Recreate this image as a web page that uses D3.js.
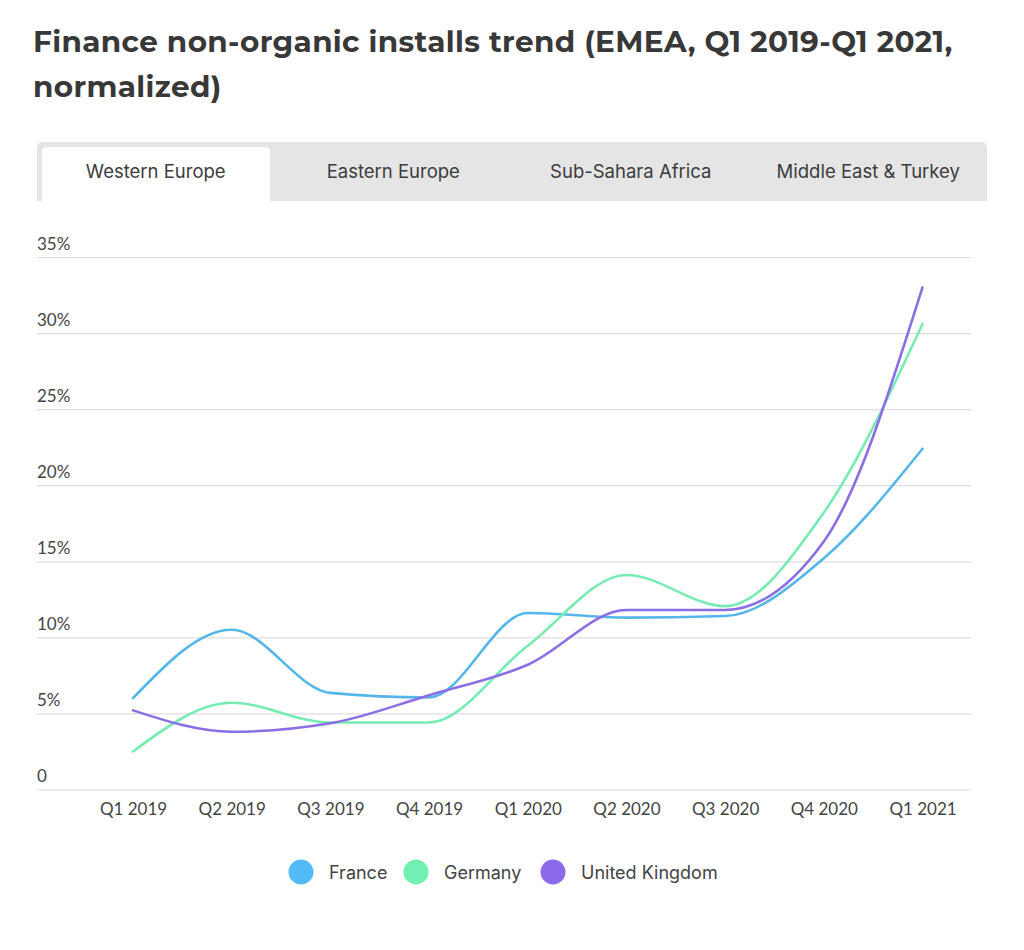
<!DOCTYPE html>
<html>
<head>
<meta charset="utf-8">
<script src="https://cdn.jsdelivr.net/npm/d3@7"></script>
<style>
  html, body { margin: 0; padding: 0; background: #fff; }
  svg { display: block; }
</style>
</head>
<body>
<svg id="chart" width="1024" height="950"></svg>
<script>
const titleLines = ["Finance non-organic installs trend (EMEA, Q1 2019-Q1 2021,", "normalized)"];
const tabs = ["Western Europe", "Eastern Europe", "Sub-Sahara Africa", "Middle East & Turkey"];
const quarters = ["Q1 2019", "Q2 2019", "Q3 2019", "Q4 2019", "Q1 2020", "Q2 2020", "Q3 2020", "Q4 2020", "Q1 2021"];
const yTicks = [0, 5, 10, 15, 20, 25, 30, 35];
const seriesNames = ["France", "Germany", "United Kingdom"];
const franceValues = [6.0, 10.5, 6.35, 6.05, 11.6, 11.3, 11.4, 15.2, 22.4];
const germanyValues = [2.5, 5.7, 4.4, 4.4, 9.45, 14.1, 12.05, 18.2, 30.6];
const ukValues = [5.2, 3.8, 4.35, 6.2, 8.2, 11.8, 11.8, 16.3, 33.0];
const lineColors = ["#55b6ea", "#78ebb3", "#8b6ee6"];
const legendColors = ["#52bbf5", "#72f0b4", "#8c6beb"];

const svg = d3.select("#chart");
const bodyFont = "Lato, 'Open Sans', sans-serif";
const wideFont = "Inter, 'Open Sans', sans-serif";

// Title
svg.append("g").selectAll("text").data(titleLines).join("text")
  .attr("x", 33).attr("y", (d, i) => 52 + i * 45)
  .attr("font-family", "Montserrat, 'Open Sans', sans-serif")
  .attr("font-weight", 700).attr("font-size", 29.5)
  .attr("letter-spacing", 0.35)
  .attr("fill", "#383838")
  .text(d => d);

// Tabs
const tabX = d3.scaleBand().domain(tabs).range([37, 987]);
const tabG = svg.append("g");
tabG.append("path")
  .attr("d", () => {
    const x0 = 37, x1 = 987, y0 = 142, y1 = 201, r = 6;
    return `M${x0},${y1} V${y0 + r} Q${x0},${y0} ${x0 + r},${y0} H${x1 - r} Q${x1},${y0} ${x1},${y0 + r} V${y1} Z`;
  })
  .attr("fill", "#e5e5e5");
tabG.append("path")
  .attr("d", () => {
    const x0 = 42, x1 = 270, y0 = 147, y1 = 201, r = 5;
    return `M${x0},${y1} V${y0 + r} Q${x0},${y0} ${x0 + r},${y0} H${x1 - r} Q${x1},${y0} ${x1},${y0 + r} V${y1} Z`;
  })
  .attr("fill", "#ffffff");
tabG.selectAll("text").data(tabs).join("text")
  .attr("x", d => tabX(d) + tabX.bandwidth() / 2)
  .attr("y", 178)
  .attr("text-anchor", "middle")
  .attr("font-family", wideFont).attr("font-size", 18.5)
  .attr("fill", "#3c3c3c")
  .text(d => d);

// Scales
const x = d3.scalePoint().domain(quarters).range([133, 922.5]);
const y = d3.scaleLinear().domain([0, 35]).range([789.5, 257]);

// Y axis with gridlines
const yAxis = d3.axisRight(y).tickValues(yTicks).tickSize(934)
  .tickFormat(d => d === 0 ? "0" : d + "%");
const yG = svg.append("g").attr("transform", "translate(37,0)").call(yAxis);
yG.select(".domain").remove();
yG.selectAll(".tick line").attr("stroke", "#dedede").attr("stroke-width", 1.2);
yG.selectAll(".tick text")
  .attr("x", 0).attr("dy", -8).attr("text-anchor", "start")
  .attr("font-family", bodyFont).attr("font-size", 17).attr("fill", "#444");

// X axis
const xAxis = d3.axisBottom(x).tickSize(0).tickPadding(0);
const xG = svg.append("g").attr("transform", "translate(0,789.5)").call(xAxis);
xG.select(".domain").remove();
xG.selectAll(".tick text")
  .attr("y", 25).attr("dy", 0)
  .attr("font-family", bodyFont).attr("font-size", 17).attr("fill", "#444");

// Lines
const series = [franceValues, germanyValues, ukValues];
const line = d3.line()
  .x((d, i) => x(quarters[i]))
  .y(d => y(d))
  .curve(d3.curveMonotoneX);
svg.append("g").selectAll("path").data(series).join("path")
  .attr("d", d => line(d))
  .attr("fill", "none")
  .attr("stroke", (d, i) => lineColors[i])
  .attr("stroke-width", 2.6)
  .attr("stroke-linecap", "round");

// Legend
const legendX = [301, 416, 553];
const legG = svg.append("g");
const items = legG.selectAll("g").data(seriesNames).join("g")
  .attr("transform", (d, i) => `translate(${legendX[i]},872)`);
items.append("circle").attr("r", 12.5).attr("fill", (d, i) => legendColors[i]);
items.append("text")
  .attr("x", 28).attr("y", 6.5)
  .attr("font-family", wideFont).attr("font-size", 18).attr("fill", "#444")
  .text(d => d);
</script>
</body>
</html>
